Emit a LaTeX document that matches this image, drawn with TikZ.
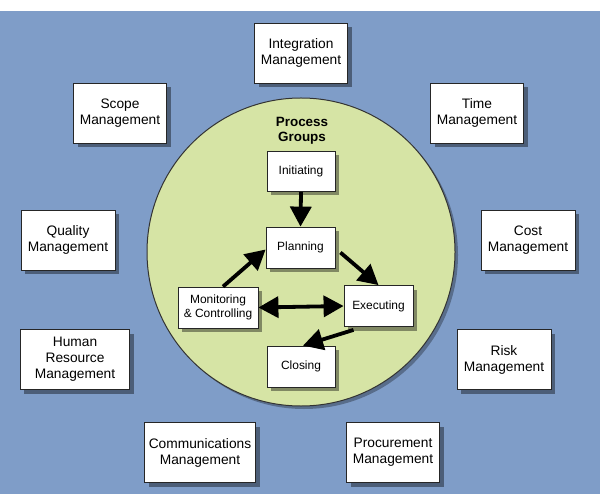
\documentclass[tikz,border=0pt]{standalone}
\usepackage{fontspec}
\setmainfont{Liberation Sans}
\usetikzlibrary{arrows.meta,shadows}
\definecolor{bgblue}{RGB}{127,157,200}
\definecolor{pggreen}{RGB}{214,228,165}
\begin{document}
\begin{tikzpicture}[x=1bp,y=-1bp,
  box/.style={draw=black!85, line width=0.8bp, fill=white, inner sep=0pt, align=center,
     drop shadow={shadow xshift=4bp, shadow yshift=-4bp, fill=black, opacity=0.4}},
  mgmt/.style={box, minimum height=60bp, font=\fontsize{13.8}{16}\selectfont},
  stage/.style={box, minimum height=41bp, font=\fontsize{12}{13.5}\selectfont},
  tipshape/.style={},
  flowarrow/.style={line width=3.8bp, -{Triangle[length=20bp,width=21bp]}},
]
\useasboundingbox (0,0) rectangle (600,498);
\fill[white] (0,0) rectangle (600,498);
\fill[bgblue] (0,11) rectangle (600,494);

% process group circle
\node[circle, draw=black!80, line width=1bp, fill=pggreen, minimum size=308bp, inner sep=0pt,
      drop shadow={shadow xshift=3bp, shadow yshift=-3bp, fill=black, opacity=0.3}] (pg) at (301,252) {};
\node[font=\bfseries\fontsize{13.5}{15.5}\selectfont, align=center] (pgtitle) at (302,131) {Process\\Groups};

% knowledge areas
\node[mgmt, minimum width=93bp]  (integ) at (301,53)    {Integration\\Management};
\node[mgmt, minimum width=93bp]  (scope) at (120,113)   {Scope\\Management};
\node[mgmt, minimum width=93bp]  (time)  at (477,113)   {Time\\Management};
\node[mgmt, minimum width=94bp]  (qual)  at (68,240)    {Quality\\Management};
\node[mgmt, minimum width=94bp]  (cost)  at (528,240)   {Cost\\Management};
\node[mgmt, minimum width=109bp] (hr)    at (75,359.5)  {Human\\Resource\\Management};
\node[mgmt, minimum width=94bp]  (risk)  at (504,359.5) {Risk\\Management};
\node[mgmt, minimum width=111bp] (comm)  at (200,452.5) {Communications\\Management};
\node[mgmt, minimum width=93bp]  (proc)  at (393,452.5) {Procurement\\Management};

% process groups
\node[stage, minimum width=68bp, minimum height=40bp] (init) at (301,171.5) {Initiating};
\node[stage, minimum width=69bp] (plan) at (300.5,247.5) {Planning};
\node[stage, minimum width=80bp] (mon)  at (218,307.5)   {Monitoring\\\& Controlling};
\node[stage, minimum width=69bp] (exe)  at (378.5,306)   {Executing};
\node[stage, minimum width=68bp] (clo)  at (301,366.5)   {Closing};

% arrows
\draw[flowarrow] (init.south) -- (plan.north);
\draw[flowarrow] ([xshift=5bp]mon.north) -- ([yshift=-2bp]plan.west);
\draw[flowarrow] ([xshift=5bp,yshift=-5bp]plan.east) -- (exe.north);
\draw[line width=3.8bp, {Triangle[length=20bp,width=21bp]}-{Triangle[length=20bp,width=21bp]}] (mon.east) -- (exe.west);
\draw[flowarrow] ([xshift=-25bp,yshift=-3bp]exe.south) -- ([xshift=2bp]clo.north);
\end{tikzpicture}
\end{document}
